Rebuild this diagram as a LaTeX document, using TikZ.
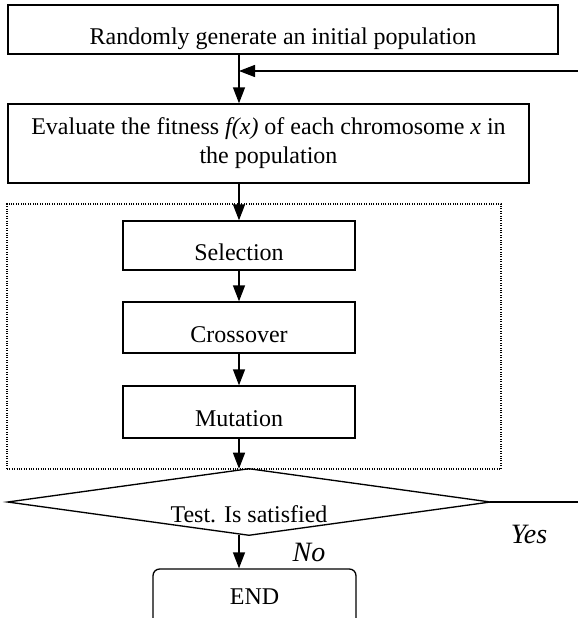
\documentclass[tikz,border=0pt]{standalone}
\usepackage{fontspec}
\setmainfont{Liberation Serif}
\usepackage{tikz}
\usetikzlibrary{arrows.meta}
\tikzset{
    procbox/.style={draw=black, line width=1pt, rectangle, inner sep=2pt,
        text height=26pt, text depth=4pt,
        font=\fontsize{18pt}{21.75pt}\selectfont},
    evalbox/.style={draw=black, line width=1pt, rectangle, align=center,
        font=\fontsize{18pt}{21.75pt}\selectfont},
    groupbox/.style={draw=black, line width=0.8pt, densely dotted, rectangle},
    testbox/.style={rectangle, inner sep=0pt, text height=34pt, text depth=4pt,
        font=\fontsize{18pt}{21.75pt}\selectfont},
    endbox/.style={draw=black, line width=1pt, rectangle, rounded corners=5pt,
        font=\fontsize{18pt}{21.75pt}\selectfont},
    answer/.style={font=\fontsize{21pt}{24pt}\selectfont\itshape},
    flow/.style={draw=black, line width=1pt, -{Triangle[length=12pt,width=9pt]}},
    edge/.style={draw=black, line width=1pt}
}
\begin{document}
\begin{tikzpicture}[x=0.75pt,y=-0.75pt]
\clip (0,0) rectangle (578,618);
\fill[white] (0,0) rectangle (578,618);
\node[procbox, minimum width=412.5pt, minimum height=36.75pt] (init) at (283,29.5)
  {Randomly generate an initial population};
\node[evalbox, minimum width=390.75pt, minimum height=59.25pt] (evaluate) at (268.5,143.5)
  {Evaluate the fitness \textit{f(x)} of each chromosome \textit{x} in\\ the population};
\node[groupbox, minimum width=370.5pt, minimum height=198.75pt] (ops) at (254,336.5) {};
\node[procbox, minimum width=174pt, minimum height=36.75pt] (selection) at (239,245.5) {Selection};
\node[procbox, minimum width=174pt, minimum height=38.25pt] (crossover) at (239,327.5) {Crossover};
\node[procbox, minimum width=174pt, minimum height=39pt] (mutation) at (239,412) {Mutation};
\node[testbox, minimum width=361.5pt, minimum height=49.5pt] (test) at (249,502) {Test. Is satisfied};
\node[endbox, minimum width=152.25pt, minimum height=42pt] (end) at (254.5,597) {END};
\node[answer] (yes) at (529,534) {Yes};
\node[answer] (no) at (309,552) {No};
\coordinate (loop) at (578,71);
\coordinate (exit) at (578,502);
\draw[style={edge}]
  (test.west) -- (test.north) -- (test.east) -- (test.south) -- cycle;
\draw[style={flow}]
  (init.south -| selection.north) -- (evaluate.north -| selection.north);
\draw[style={flow}]
  (loop) -- (loop -| selection.north);
\draw[style={flow}]
  (evaluate.south -| selection.north) -- (selection.north);
\draw[style={flow}]
  (selection.south) -- (crossover.north);
\draw[style={flow}]
  (crossover.south) -- (mutation.north);
\draw[style={flow}]
  (mutation.south) -- (mutation.south |- test.north);
\draw[style={edge}]
  (test.east) -- (exit);
\draw[style={flow}]
  (test.south -| selection.north) -- (end.north -| selection.north);
\end{tikzpicture}
\end{document}
